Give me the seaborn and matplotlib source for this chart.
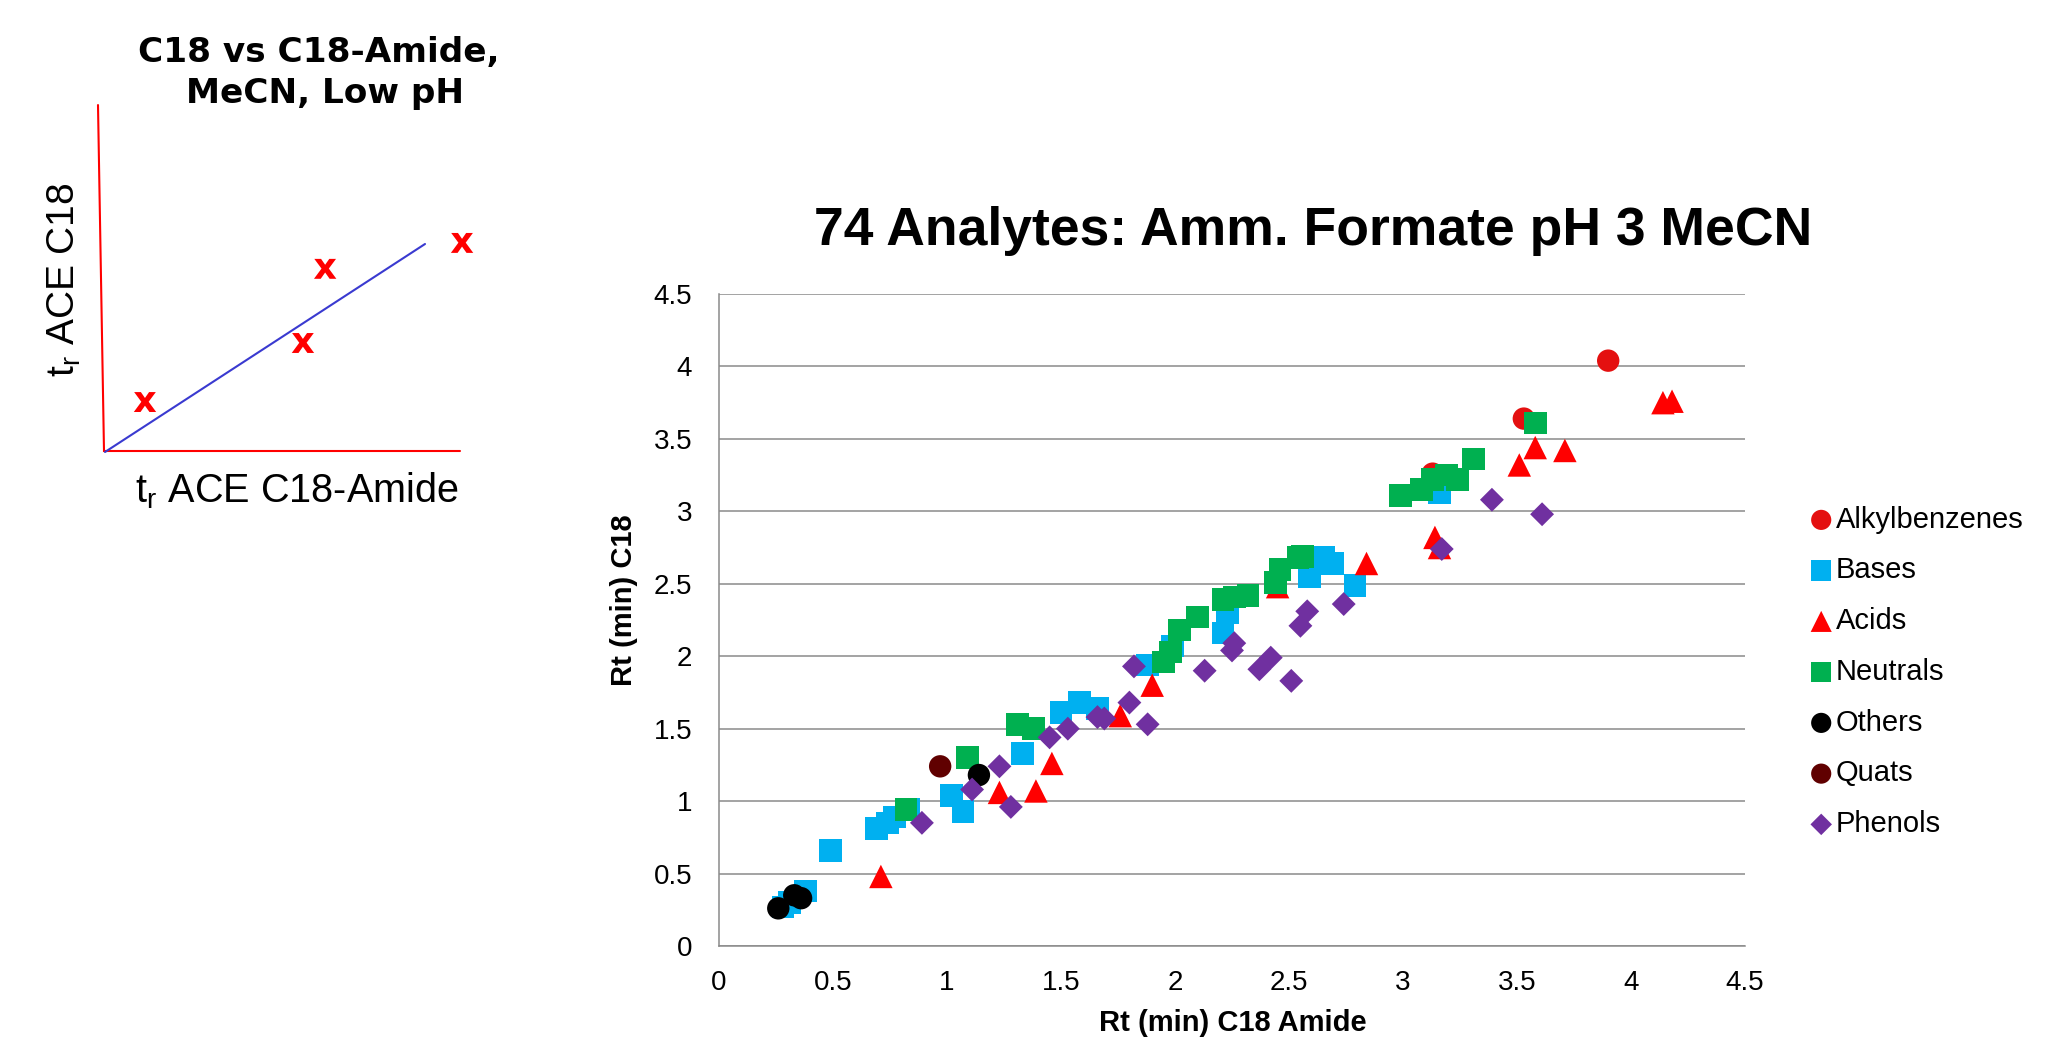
import matplotlib
matplotlib.use("Agg")
import matplotlib.pyplot as plt
import seaborn as sns
import pandas as pd

# retention times, x = C18 Amide, y = C18 (min)
alkyl_x = [3.13, 3.53, 3.90]
alkyl_y = [3.26, 3.64, 4.04]

bases_x = [0.28, 0.31, 0.38, 0.49, 0.69, 0.74, 0.77, 0.83, 1.02, 1.07, 1.33, 1.50,
           1.58, 1.66, 1.88, 1.99, 2.21, 2.23, 2.59, 2.65, 2.69, 2.79, 3.16]
bases_y = [0.27, 0.30, 0.38, 0.66, 0.81, 0.85, 0.89, 0.94, 1.04, 0.93, 1.33, 1.61,
           1.68, 1.64, 1.94, 2.07, 2.16, 2.30, 2.55, 2.68, 2.64, 2.49, 3.13]

acids_x = [0.71, 1.23, 1.39, 1.46, 1.76, 1.90, 2.45, 2.84, 3.14, 3.16, 3.51, 3.58,
           3.71, 4.14, 4.18]
acids_y = [0.48, 1.06, 1.07, 1.26, 1.59, 1.80, 2.48, 2.64, 2.82, 2.75, 3.32, 3.44,
           3.42, 3.75, 3.76]

neutrals_x = [0.82, 1.09, 1.31, 1.38, 1.95, 1.98, 2.02, 2.10, 2.21, 2.26, 2.32, 2.44,
              2.46, 2.54, 2.56, 2.99, 3.08, 3.13, 3.19, 3.24, 3.31, 3.58]
neutrals_y = [0.94, 1.30, 1.53, 1.50, 1.96, 2.03, 2.18, 2.27, 2.39, 2.41, 2.42, 2.51,
              2.60, 2.68, 2.69, 3.11, 3.15, 3.22, 3.25, 3.22, 3.36, 3.61]

others_x = [0.26, 0.33, 0.36, 1.14]
others_y = [0.26, 0.35, 0.33, 1.18]

quats_x = [0.97]
quats_y = [1.24]

phenols_x = [0.89, 1.11, 1.23, 1.28, 1.45, 1.53, 1.66, 1.69, 1.80, 1.82, 1.88, 2.13,
             2.25, 2.26, 2.37, 2.42, 2.51, 2.55, 2.58, 2.74, 3.17, 3.39, 3.61]
phenols_y = [0.85, 1.08, 1.24, 0.96, 1.44, 1.50, 1.58, 1.57, 1.68, 1.93, 1.53, 1.90,
             2.04, 2.09, 1.91, 1.99, 1.83, 2.21, 2.31, 2.36, 2.74, 3.08, 2.98]

tick_values = [0, 0.5, 1, 1.5, 2, 2.5, 3, 3.5, 4, 4.5]
tick_labels = ["0", "0.5", "1", "1.5", "2", "2.5", "3", "3.5", "4", "4.5"]

# schematic sketch on the left (unitless, 0-1 box)
schem_axis_x = [0.0205, 0.0359, 0.9487]
schem_axis_y = [0.986, 0.025, 0.025]
schem_fit_x = [0.0385, 0.859]
schem_fit_y = [0.0222, 0.600]
schem_pts_x = [0.141, 0.546, 0.603, 0.954]
schem_pts_y = [0.161, 0.325, 0.531, 0.603]

GRID = "#8a8a8a"


def plot_main(fig):
    ax = fig.add_axes([719 / 2051, 1 - 946 / 1037, 1026 / 2051, 652 / 1037])
    series = [
        ("Alkylbenzenes", alkyl_x, alkyl_y, "o", "#E41010", 260),
        ("Bases", bases_x, bases_y, "s", "#00B0F0", 265),
        ("Acids", acids_x, acids_y, "^", "#FF0000", 285),
        ("Neutrals", neutrals_x, neutrals_y, "s", "#00B050", 265),
        ("Others", others_x, others_y, "o", "#000000", 260),
        ("Quats", quats_x, quats_y, "o", "#600000", 260),
        ("Phenols", phenols_x, phenols_y, "D", "#7030A0", 148),
    ]
    for name, xs, ys, mk, col, size in series:
        df = pd.DataFrame({"x": xs, "y": ys})
        sns.scatterplot(data=df, x="x", y="y", marker=mk, color=col, s=size,
                        linewidth=0, edgecolor="none", label=name, ax=ax,
                        clip_on=False, zorder=3)

    ax.set_xlim(0, 4.5)
    ax.set_ylim(0, 4.5)
    ax.set_xticks(tick_values)
    ax.set_xticklabels(tick_labels)
    ax.set_yticks(tick_values)
    ax.set_yticklabels(tick_labels)
    ax.set_axisbelow(True)
    ax.grid(False)
    ax.yaxis.grid(True, color=GRID, linewidth=1.1)
    for side in ["top", "right"]:
        ax.spines[side].set_visible(False)
    for side in ["left", "bottom"]:
        ax.spines[side].set_color(GRID)
        ax.spines[side].set_linewidth(1.1)
    ax.tick_params(axis="y", direction="out", length=7.2, width=1.1, color=GRID,
                   pad=12, labelsize=20, labelcolor="black")
    ax.tick_params(axis="x", direction="out", length=6.5, width=1.1, color=GRID,
                   pad=11, labelsize=20, labelcolor="black")

    ax.set_xlabel("Rt (min) C18 Amide", fontsize=21, fontweight="bold", va="baseline",
                  color="black")
    ax.xaxis.set_label_coords(0.501, -0.131)
    ax.set_ylabel("Rt (min) C18", fontsize=21, fontweight="bold", va="center",
                  color="black")
    ax.yaxis.set_label_coords(-0.0926, 0.53)

    ax.legend(loc="upper left", bbox_to_anchor=(1811 / 2051, 0.5125),
              bbox_transform=fig.transFigure, frameon=False, fontsize=21,
              handlelength=0.7, handletextpad=0.15, labelspacing=0.78,
              borderpad=0, borderaxespad=0, markerscale=0.9)

    fig.text(1313.5 / 2051, 1 - 231 / 1037, "74 Analytes: Amm. Formate pH 3 MeCN",
             ha="center", va="center", fontsize=38.5, fontweight="bold")


def plot_sketch(fig):
    ax = fig.add_axes([90 / 2051, 1 - 460 / 1037, 390 / 2051, 360 / 1037])
    ax.set_xlim(0, 1)
    ax.set_ylim(0, 1)
    ax.axis("off")
    ax.plot(schem_axis_x, schem_axis_y, color="#FF0000", linewidth=1.5,
            solid_joinstyle="miter", clip_on=False)
    ax.plot(schem_fit_x, schem_fit_y, color="#3A3AD0", linewidth=1.5, clip_on=False)
    df = pd.DataFrame({"x": schem_pts_x, "y": schem_pts_y})
    sns.scatterplot(data=df, x="x", y="y", marker=r"$\mathbf{x}$", color="#FF0000",
                    s=260, linewidth=0, edgecolor="none", ax=ax, clip_on=False)
    ax.set_xlabel("")
    ax.set_ylabel("")

    ax.text(-0.0385, 0.5, r"t$_\mathregular{r}$ ACE C18", rotation=90,
            rotation_mode="anchor", ha="center", va="baseline", fontsize=28)
    ax.text(0.531, -0.119, r"t$_\mathregular{r}$ ACE C18-Amide", ha="center",
            va="baseline", fontsize=28.5)

    fig.text(319 / 2051, 1 - 62 / 1037, "C18 vs C18-Amide,", ha="center",
             va="baseline", fontsize=24.7, fontweight="heavy", family="DejaVu Sans")
    fig.text(325 / 2051, 1 - 103 / 1037, "MeCN, Low pH", ha="center",
             va="baseline", fontsize=24.7, fontweight="heavy", family="DejaVu Sans")


def main():
    sns.set_theme(style="white")
    plt.rcParams["font.family"] = ["Liberation Sans", "DejaVu Sans"]
    plt.rcParams["mathtext.fontset"] = "dejavusans"
    plt.rcParams["text.color"] = "black"
    plt.rcParams["axes.labelcolor"] = "black"
    fig = plt.figure(figsize=(20.51, 10.37), dpi=100)
    fig.patch.set_facecolor("white")
    plot_main(fig)
    plot_sketch(fig)
    fig.savefig("out.png", dpi=100, facecolor="white")


if __name__ == "__main__":
    main()
